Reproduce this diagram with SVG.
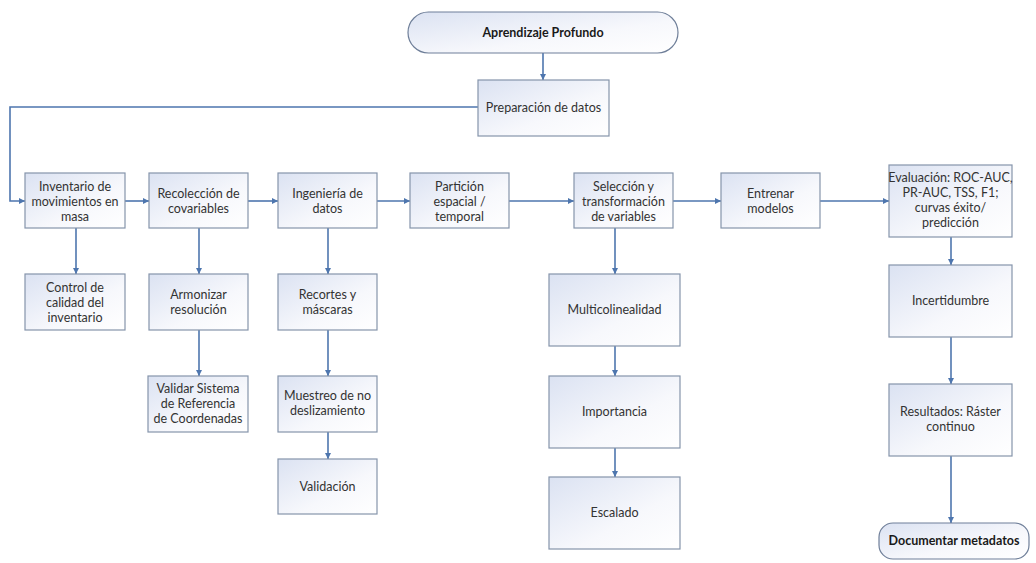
<svg xmlns="http://www.w3.org/2000/svg" width="1036" height="563" viewBox="0 0 1036 563">
  <style>
    .box { stroke: #8594ab; stroke-width: 1.2; fill: url(#boxFill); }
    .term { stroke: #6f7f99; stroke-width: 1.2; fill: url(#boxFill); }
    .lbl { font-family: Lato, "Open Sans", sans-serif; font-size: 12.5px; fill: #333333; text-anchor: middle; }
    .bold { font-weight: bold; fill: #1a1a1a; }
    .edge { stroke: #4e76ae; stroke-width: 1.6; fill: none; marker-end: url(#arrow); }
  </style>
  <defs>
    <linearGradient id="boxFill" x1="0" y1="0" x2="1" y2="1">
      <stop offset="0" stop-color="#dbe2f2"/>
      <stop offset="0.6" stop-color="#f7f8fc"/>
      <stop offset="1" stop-color="#ffffff"/>
    </linearGradient>
    <marker id="arrow" viewBox="0 0 10 10" refX="10" refY="5" markerWidth="6" markerHeight="6" markerUnits="userSpaceOnUse" orient="auto">
      <path d="M0,0 L10,5 L0,10 z" fill="#4e76ae"/>
    </marker>
  </defs>
  <rect width="1036" height="563" fill="#ffffff"/>

  <!-- connectors -->
  <g id="connectors">
    <line class="edge" x1="543" y1="53" x2="543" y2="80"/>
    <polyline class="edge" points="478,107 10,107 10,201 25,201"/>
    <line class="edge" x1="125" y1="201" x2="149" y2="201"/>
    <line class="edge" x1="248" y1="201" x2="278" y2="201"/>
    <line class="edge" x1="377" y1="201" x2="410" y2="201"/>
    <line class="edge" x1="509" y1="201" x2="574" y2="201"/>
    <line class="edge" x1="673" y1="201" x2="721" y2="201"/>
    <line class="edge" x1="820" y1="201" x2="889" y2="201"/>
    <line class="edge" x1="76" y1="228" x2="76" y2="274"/>
    <line class="edge" x1="199" y1="228" x2="199" y2="274"/>
    <line class="edge" x1="199" y1="330" x2="199" y2="376"/>
    <line class="edge" x1="328" y1="228" x2="328" y2="274"/>
    <line class="edge" x1="328" y1="330" x2="328" y2="376"/>
    <line class="edge" x1="328" y1="432" x2="328" y2="459"/>
    <line class="edge" x1="615" y1="228" x2="615" y2="274"/>
    <line class="edge" x1="615" y1="346" x2="615" y2="376"/>
    <line class="edge" x1="615" y1="448" x2="615" y2="477"/>
    <line class="edge" x1="951" y1="237" x2="951" y2="265"/>
    <line class="edge" x1="951" y1="337" x2="951" y2="384"/>
    <line class="edge" x1="951" y1="456" x2="951" y2="523"/>
  </g>

  <g id="aprendizaje">
    <rect class="term" x="408" y="12" width="270" height="41" rx="20.5"/>
    <text class="lbl bold" x="543" y="37">Aprendizaje Profundo</text>
  </g>
  <g id="preparacion">
    <rect class="box" x="478" y="80" width="131" height="56"/>
    <text class="lbl" x="543.5" y="112">Preparación de datos</text>
  </g>

  <g id="inventario">
    <rect class="box" x="25" y="173" width="100" height="55"/>
    <text class="lbl" x="75" y="191">Inventario de</text>
    <text class="lbl" x="75" y="206">movimientos en</text>
    <text class="lbl" x="75" y="221">masa</text>
  </g>
  <g id="recoleccion">
    <rect class="box" x="149" y="173" width="99" height="55"/>
    <text class="lbl" x="198.5" y="198">Recolección de</text>
    <text class="lbl" x="198.5" y="213">covariables</text>
  </g>
  <g id="ingenieria">
    <rect class="box" x="278" y="173" width="99" height="55"/>
    <text class="lbl" x="327.5" y="198">Ingeniería de</text>
    <text class="lbl" x="327.5" y="213">datos</text>
  </g>
  <g id="particion">
    <rect class="box" x="410" y="173" width="99" height="55"/>
    <text class="lbl" x="459.5" y="191">Partición</text>
    <text class="lbl" x="459.5" y="206">espacial /</text>
    <text class="lbl" x="459.5" y="221">temporal</text>
  </g>
  <g id="seleccion">
    <rect class="box" x="574" y="173" width="99" height="55"/>
    <text class="lbl" x="623.5" y="191">Selección y</text>
    <text class="lbl" x="623.5" y="206">transformación</text>
    <text class="lbl" x="623.5" y="221">de variables</text>
  </g>
  <g id="entrenar">
    <rect class="box" x="721" y="173" width="99" height="55"/>
    <text class="lbl" x="770.5" y="198">Entrenar</text>
    <text class="lbl" x="770.5" y="213">modelos</text>
  </g>
  <g id="evaluacion">
    <rect class="box" x="889" y="165" width="123" height="72"/>
    <text class="lbl" x="950.5" y="182">Evaluación: ROC-AUC,</text>
    <text class="lbl" x="950.5" y="197">PR-AUC, TSS, F1;</text>
    <text class="lbl" x="950.5" y="212">curvas éxito/</text>
    <text class="lbl" x="950.5" y="227">predicción</text>
  </g>

  <g id="control">
    <rect class="box" x="25" y="274" width="100" height="56"/>
    <text class="lbl" x="75" y="292">Control de</text>
    <text class="lbl" x="75" y="307">calidad del</text>
    <text class="lbl" x="75" y="322">inventario</text>
  </g>
  <g id="armonizar">
    <rect class="box" x="149" y="274" width="99" height="56"/>
    <text class="lbl" x="198.5" y="299">Armonizar</text>
    <text class="lbl" x="198.5" y="314">resolución</text>
  </g>
  <g id="validar-src">
    <rect class="box" x="148" y="376" width="100" height="56"/>
    <text class="lbl" x="198" y="393">Validar Sistema</text>
    <text class="lbl" x="198" y="408">de Referencia</text>
    <text class="lbl" x="198" y="423">de Coordenadas</text>
  </g>
  <g id="recortes">
    <rect class="box" x="278" y="274" width="99" height="56"/>
    <text class="lbl" x="327.5" y="299">Recortes y</text>
    <text class="lbl" x="327.5" y="314">máscaras</text>
  </g>
  <g id="muestreo">
    <rect class="box" x="278" y="376" width="99" height="56"/>
    <text class="lbl" x="327.5" y="400">Muestreo de no</text>
    <text class="lbl" x="327.5" y="415">deslizamiento</text>
  </g>
  <g id="validacion">
    <rect class="box" x="278" y="459" width="99" height="55"/>
    <text class="lbl" x="327.5" y="491">Validación</text>
  </g>

  <g id="multicolinealidad">
    <rect class="box" x="549" y="274" width="131" height="72"/>
    <text class="lbl" x="614.5" y="314">Multicolinealidad</text>
  </g>
  <g id="importancia">
    <rect class="box" x="549" y="376" width="131" height="72"/>
    <text class="lbl" x="614.5" y="416">Importancia</text>
  </g>
  <g id="escalado">
    <rect class="box" x="549" y="477" width="131" height="72"/>
    <text class="lbl" x="614.5" y="517">Escalado</text>
  </g>

  <g id="incertidumbre">
    <rect class="box" x="889" y="265" width="123" height="72"/>
    <text class="lbl" x="950.5" y="305">Incertidumbre</text>
  </g>
  <g id="resultados">
    <rect class="box" x="889" y="384" width="123" height="72"/>
    <text class="lbl" x="950.5" y="416">Resultados: Ráster</text>
    <text class="lbl" x="950.5" y="431">continuo</text>
  </g>
  <g id="documentar">
    <rect class="term" x="879" y="523" width="150" height="36" rx="14"/>
    <text class="lbl bold" x="954" y="545">Documentar metadatos</text>
  </g>
</svg>
